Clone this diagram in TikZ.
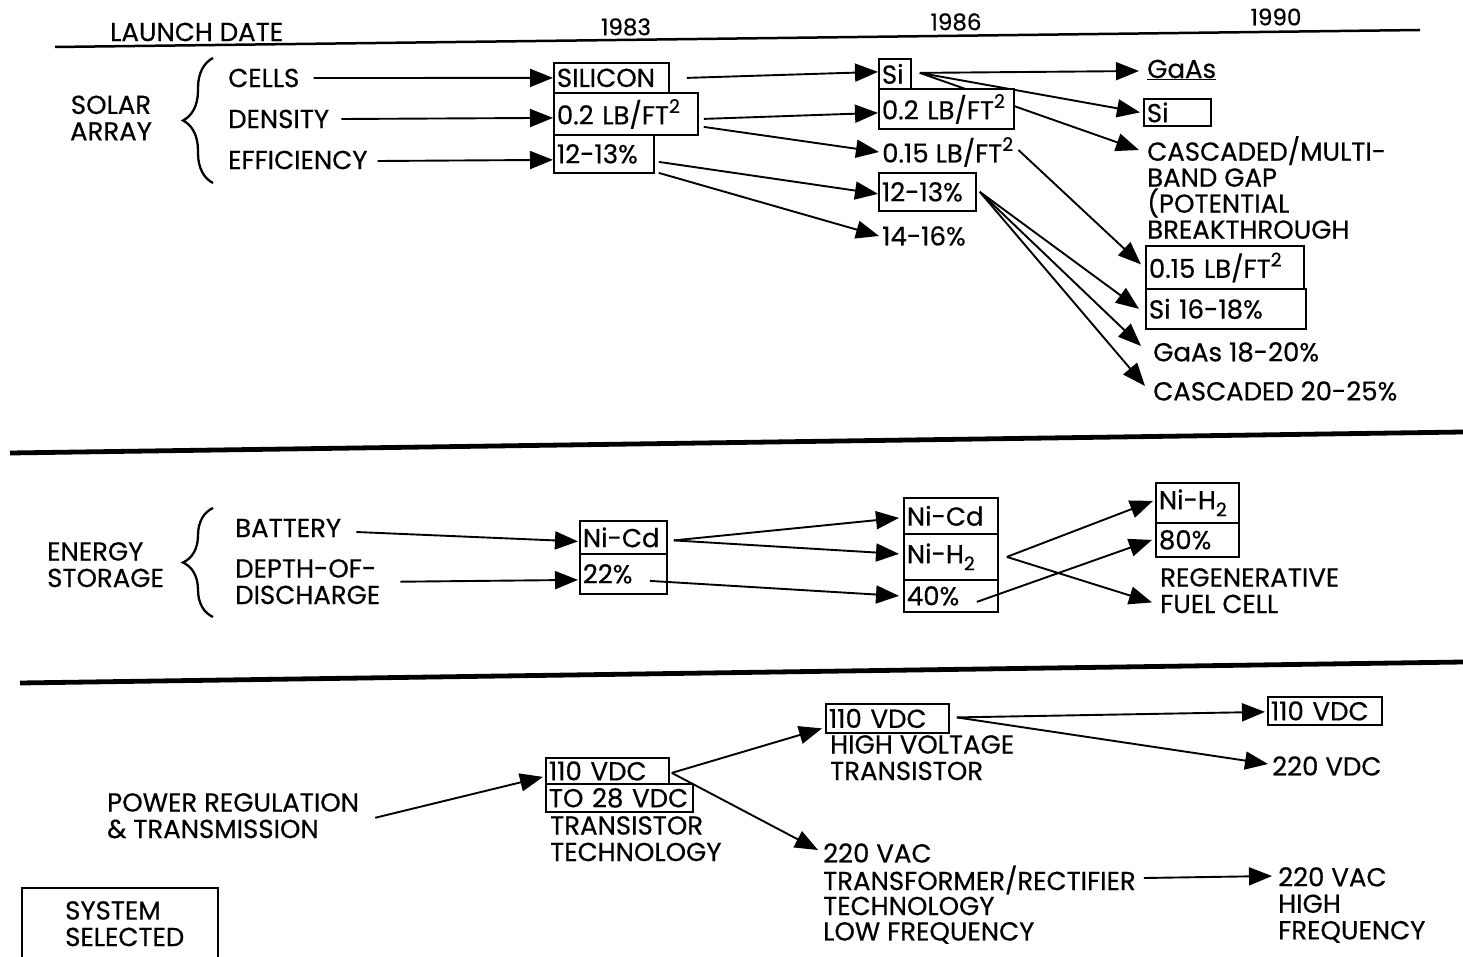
\documentclass[tikz,border=0pt]{standalone}
\usepackage{fontspec}
\setmainfont{Poppins}[FakeBold=0.5]
\usetikzlibrary{arrows.meta,decorations.pathreplacing,calc,backgrounds}
\newcommand\supx[1]{\raisebox{0.8ex}{\fontsize{19}{19}\selectfont #1}}
\newcommand\subx[1]{\raisebox{-0.5ex}{\fontsize{19}{19}\selectfont #1}}
\begin{document}
\begin{tikzpicture}[x=1pt,y=-1pt,
  font=\fontsize{26}{26.5}\selectfont,
  txt/.style={inner sep=0pt, anchor=west, align=left},
  ml/.style={inner sep=0pt, anchor=north west, align=left},
  yr/.style={font=\fontsize{23}{26}\selectfont},
  sel/.style={draw, line width=1.8pt, fill=white, inner xsep=3pt, inner ysep=0pt, anchor=north west, align=left},
  con/.style={line width=1.9pt, -{Triangle[length=23pt,width=18pt]}},
  sepline/.style={line width=4.8pt},
  brc/.style={decorate, decoration={brace, amplitude=30pt, aspect=0.5}, line width=2.3pt}]
\useasboundingbox (0,0) rectangle (1463,957);

% ---------- header
\node[txt] (ld) at (110,32) {LAUNCH DATE};
\node[yr] (y83) at (626,27) {1983};
\node[yr] (y86) at (956,22) {1986};
\node[yr] (y90) at (1276,17) {1990};
\draw[line width=2.5pt] (55,47) -- (1420,30);

% ---------- solar array
\node[ml, align=center, anchor=center] (sa) at (111,118) {SOLAR\\ARRAY};
\draw[brc] (213,183) -- (213,58);
\node[txt] (cells) at (228,78) {CELLS};
\node[txt] (dens) at (228,119) {DENSITY};
\node[txt] (eff) at (228,160) {EFFICIENCY};

\node[sel, minimum height=30, text width=109] (sil) at (553,62) {SILICON};
\node[sel, minimum height=42, text width=138] (d83) at (553,92) {0.2 LB/FT\supx{2}};
\node[sel, minimum height=38, text width=94] (e83) at (553,134) {12-13\%};

\node[sel, minimum height=30, text width=26] (si86) at (878,58) {Si};
\node[sel, minimum height=40, text width=129] (d86) at (878,88) {0.2 LB/FT\supx{2}};
\node[txt] (d86b) at (882,152) {0.15 LB/FT\supx{2}};
\node[sel, minimum height=38, text width=91] (e86) at (878,172) {12-13\%};
\node[txt] (e86b) at (882,236) {14-16\%};

\node[txt] (gaas) at (1147,70) {\underline{GaAs}};
\node[sel, minimum height=27, text width=61] (si90) at (1143,98) {Si};
\node[ml, font=\fontsize{26}{26}\selectfont] (casc) at (1147,136) {CASCADED/MULTI-\\BAND GAP\\(POTENTIAL\\BREAKTHROUGH};
\node[sel, minimum height=43, text width=152] (d90) at (1145,245) {0.15 LB/FT\supx{2}};
\node[sel, minimum height=40, text width=154] (e90) at (1145,288) {Si 16-18\%};
\node[txt] (gaas2) at (1153,352) {GaAs 18-20\%};
\node[txt] (casc2) at (1153,391) {CASCADED 20-25\%};

\draw[sepline] (10,453) -- (1463,432);

% ---------- energy storage
\node[ml] (es) at (47,542) {ENERGY\\STORAGE};
\draw[brc] (213,617) -- (213,508);
\node[txt] (bat) at (235,528) {BATTERY};
\node[ml] (dod) at (235,559) {DEPTH-OF-\\DISCHARGE};

\node[sel, minimum height=33, text width=81] (nc83) at (579,520) {Ni-Cd};
\node[sel, minimum height=40, text width=81] (p83) at (579,553) {22\%};

\node[sel, minimum height=36, text width=88] (nc86) at (903,497) {Ni-Cd};
\node[sel, minimum height=46, text width=88] (nh86) at (903,533) {Ni-H\subx{2}};
\node[sel, minimum height=32, text width=88] (p86) at (903,579) {40\%};

\node[sel, minimum height=40, text width=77] (nh90) at (1155,482) {Ni-H\subx{2}};
\node[sel, minimum height=34, text width=77] (p90) at (1155,522) {80\%};
\node[ml] (rfc) at (1160,568) {REGENERATIVE\\FUEL CELL};

\draw[sepline] (20,683) -- (1463,662);

% ---------- power regulation
\node[ml] (prt) at (107,793) {POWER REGULATION\\\&\ TRANSMISSION};
\node[sel, minimum height=26, text width=117] (v83) at (545,757) {110 VDC};
\node[sel, minimum height=28, text width=141] (t83) at (545,783) {TO 28 VDC};
\node[ml] (tt83) at (550,816) {TRANSISTOR\\TECHNOLOGY};

\node[sel, minimum height=29, text width=117] (v86) at (825,703) {110 VDC};
\node[ml] (hvt) at (830,735) {HIGH VOLTAGE\\TRANSISTOR};
\node[txt] (vac1) at (823,853) {220 VAC};
\node[txt] (vac2) at (823,880) {TRANSFORMER/RECTIFIER};
\node[txt] (vac3) at (823,906) {TECHNOLOGY};
\node[txt] (vac4) at (823,933) {LOW FREQUENCY};

\node[sel, minimum height=28, text width=108] (v90) at (1267,696) {110 VDC};
\node[txt] (vdc) at (1272,766) {220 VDC};
\node[ml] (hf) at (1278,867) {220 VAC\\HIGH\\FREQUENCY};

% ---------- legend
\node[ml] (legt) at (65,901) {SYSTEM\\SELECTED};
\draw[line width=1.8pt] (22,957) -- (22,888) -- (218,888) -- (218,957);

% ---------- connectors (behind the boxes)
\begin{scope}[on background layer]
\draw[con] ($(cells.east)+(14,0)$) -- (sil.west);
\draw[con] ($(dens.east)+(12,0)$) -- ($(d83.west)+(0,4)$);
\draw[con] ($(eff.east)+(10,1)$) -- ($(e83.west)+(0,6)$);

\draw[con] ($(sil.east)+(17,0)$) -- ($(si86.west)+(0,-2)$);
\draw[con] ($(d83.east)+(5,5)$) -- ($(d86.west)+(0,4)$);
\draw[con] ($(d83.east)+(5,13)$) -- ($(d86b.west)+(-3,0)$);
\draw[con] ($(e83.east)+(4,8)$) -- ($(e86.west)+(0,2)$);
\draw[con] ($(e83.east)+(4,19)$) -- ($(e86b.west)+(-3,0)$);

\draw[con] ($(si86.east)+(8,-1)$) -- ($(gaas.west)+(-8,1)$);
\draw[con] ($(si86.east)+(8,-1)$) -- ($(si90.west)+(-3,0)$);
\draw[con] ($(si86.east)+(8,-1)$) -- ($(casc.north west)+(-8,14)$);
\draw[con] ($(d86b.east)+(5,-2)$) -- ($(d90.west)+(-4,-3)$);
\draw[con] ($(e86.east)+(3,0)$) -- ($(e90.west)+(-6,0)$);
\draw[con] ($(e86.east)+(3,0)$) -- ($(gaas2.west)+(-12,-6)$);
\draw[con] ($(e86.east)+(3,0)$) -- ($(casc2.west)+(-8,-5)$);

\draw[con] ($(bat.east)+(15,4)$) -- ($(nc83.west)+(-1,4)$);
\draw[con] ($(dod.east)+(20,0)$) -- ($(p83.west)+(-1,6)$);
\draw[con] ($(nc83.east)+(6,3)$) -- ($(nc86.west)+(-4,2)$);
\draw[con] ($(nc83.east)+(6,3)$) -- ($(nh86.west)+(-4,-3)$);
\draw[con] ($(nh86.east)+(8,0)$) -- ($(nh90.west)+(-2,-2)$);
\draw[con] ($(nh86.east)+(8,0)$) -- ($(rfc.south west)+(-8,-11)$);

\draw[con] ($(prt.east)+(16,2)$) -- ($(v83.west)+(-2,6)$);
\draw[con] ($(v83.east)+(2,2)$) -- ($(v86.west)+(-3,10)$);
\draw[con] ($(v83.east)+(2,2)$) -- ($(vac1.west)+(-5,-3)$);
\draw[con] ($(v86.east)+(7,-1)$) -- ($(v90.west)+(-2,1)$);
\draw[con] ($(v86.east)+(7,-1)$) -- ($(vdc.west)+(-4,-2)$);
\draw[con] ($(vac2.east)+(8,-2)$) -- ($(hf.north west)+(-6,9)$);
\end{scope}

% lines starting inside boxes
\draw[con] ($(p83.east)+(-18,7)$) -- ($(p86.west)+(-4,0)$);
\draw[con] ($(p86.east)+(-22,6)$) -- ($(p90.west)+(-3,0)$);
\end{tikzpicture}
\end{document}
